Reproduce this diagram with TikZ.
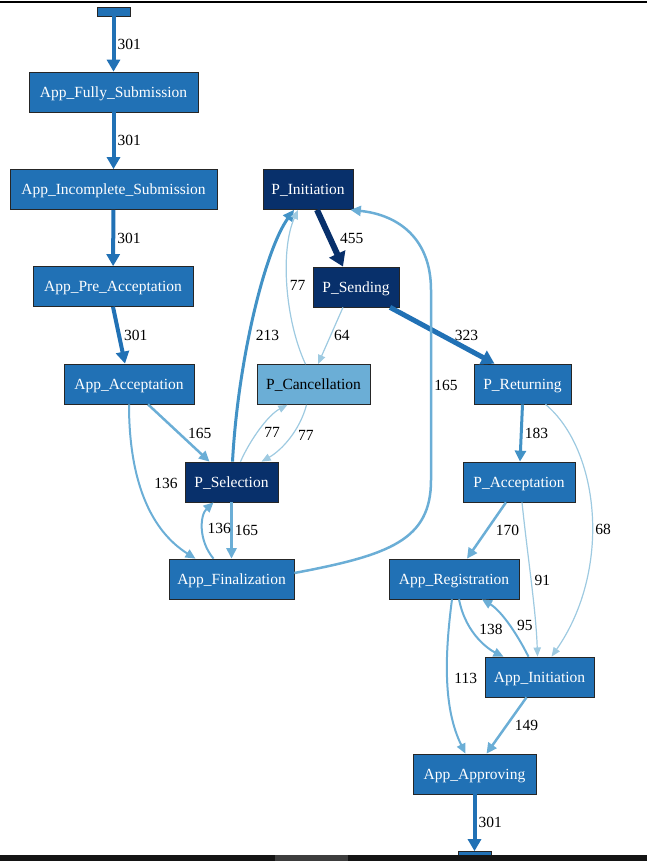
\documentclass[tikz,border=0pt]{standalone}
\usepackage{fontspec}
\setmainfont{Liberation Serif}
\usetikzlibrary{arrows.meta}
\definecolor{navy}{HTML}{08306B}
\definecolor{midblue}{HTML}{2171B5}
\definecolor{blue4}{HTML}{4292C6}
\definecolor{blue3}{HTML}{6BAED6}
\definecolor{blue2}{HTML}{9ECAE1}
\begin{document}
\begin{tikzpicture}[x=1pt,y=1pt,
    act/.style={draw=black!85, line width=0.7pt, fill=midblue, text=white, minimum height=40pt, inner sep=0pt, text height=10.3pt, text depth=0pt, font=\fontsize{15.5}{18}\selectfont},
    actdark/.style={act, fill=navy},
    actlight/.style={act, fill=blue3, text=black},
    lbl/.style={font=\fontsize{15.5}{18}\selectfont, text=black, inner sep=1pt, anchor=west},
    flow/.style={-{Triangle[length=8pt 1, width=5pt 2]}}]
    \useasboundingbox (0,0) rectangle (647,-861);
    \node[act, minimum width=33pt, minimum height=9pt, text height=0pt] (st) at (113.5,-11.5) {};
    \node[act, minimum width=169pt] (afs) at (113.5,-92) {App\_Fully\_Submission};
    \node[act, minimum width=207pt] (ais) at (113.5,-189.5) {App\_Incomplete\_Submission};
    \node[act, minimum width=160pt] (apa) at (113,-286.5) {App\_Pre\_Acceptation};
    \node[act, minimum width=130pt] (aa) at (129,-384) {App\_Acceptation};
    \node[actdark, minimum width=90pt] (pinit) at (308,-189.5) {P\_Initiation};
    \node[actdark, minimum width=86pt] (psend) at (356,-287) {P\_Sending};
    \node[actlight, minimum width=113pt] (pcanc) at (313.5,-384.5) {P\_Cancellation};
    \node[actdark, minimum width=93pt] (psel) at (231.5,-482) {P\_Selection};
    \node[act, minimum width=125pt] (afin) at (231.5,-579) {App\_Finalization};
    \node[act, minimum width=97pt] (pret) at (522.5,-384) {P\_Returning};
    \node[act, minimum width=112pt] (pacc) at (519,-482) {P\_Acceptation};
    \node[act, minimum width=130pt] (areg) at (454,-579) {App\_Registration};
    \node[act, minimum width=109pt] (ainit) at (539.5,-677) {App\_Initiation};
    \node[act, minimum width=123pt] (aapp) at (474.5,-774) {App\_Approving};
    \node[act, minimum width=33pt, minimum height=9pt, text height=0pt] (fin) at (474.5,-856) {};
    % application chain
    \draw[flow, midblue, line width=4pt] (st) -- (afs) node[lbl, midway, xshift=1pt] {301};
    \draw[flow, midblue, line width=4pt] (afs) -- (ais) node[lbl, midway, xshift=1pt] {301};
    \draw[flow, midblue, line width=4pt] (ais) -- (apa) node[lbl, midway, xshift=1pt] {301};
    \draw[flow, midblue, line width=4pt] (apa.south) -- ([xshift=-4pt]aa.north) node[lbl, midway, xshift=2pt] {301};
    \draw[flow, blue3, line width=2.5pt] ([xshift=19pt]aa.south) -- ([xshift=-22pt]psel.north) node[lbl, midway, xshift=7pt] {165};
    \draw[flow, blue3, line width=2pt] (aa.south) .. controls (129,-480) and (150,-530) .. ([xshift=-36pt]afin.north) node[lbl, pos=0.4, xshift=13pt] {136};
    % offer part
    \draw[flow, blue4, line width=3pt] ([xshift=1pt]psel.north) .. controls (238,-360) and (265,-250) .. ([xshift=-14pt]pinit.south) node[lbl, pos=0.42, xshift=4pt] {213};
    \draw[flow, blue2, line width=1.2pt] ([xshift=-8pt]pcanc.north) .. controls (285,-320) and (280,-250) .. ([xshift=-10pt]pinit.south) node[lbl, pos=0.5, xshift=1pt] {77};
    \draw[flow, navy, line width=6pt] ([xshift=9pt]pinit.south) -- ([xshift=-13pt]psend.north) node[lbl, midway, xshift=6pt] {455};
    \draw[flow, blue2, line width=1.2pt] ([xshift=-13pt]psend.south) -- ([xshift=4.5pt]pcanc.north) node[lbl, midway, xshift=2pt] {64};
    \draw[flow, midblue, line width=5pt] ([xshift=34pt]psend.south) -- ([xshift=-28pt]pret.north) node[lbl, midway, xshift=9pt] {323};
    \draw[flow, blue2, line width=1.2pt] ([xshift=-7pt]pcanc.south) .. controls (300,-430) and (282,-450) .. ([xshift=30pt]psel.north) node[lbl, pos=0.45, xshift=5pt] {77};
    \draw[flow, blue2, line width=1.2pt] ([xshift=9pt]psel.north) .. controls (250,-440) and (268,-415) .. ([xshift=-26pt]pcanc.south) node[lbl, pos=0.45, xshift=5pt] {77};
    \draw[flow, blue3, line width=2.5pt] (psel) -- (afin) node[lbl, midway, xshift=1pt] {165};
    \draw[flow, blue3, line width=2pt] ([xshift=-18pt]afin.north) .. controls (198,-540) and (200,-515) .. ([xshift=-18pt]psel.south) node[lbl, pos=0.5, xshift=3pt] {136};
    \draw[flow, blue3, line width=2.5pt] ([yshift=6pt]afin.east) .. controls (390,-555) and (431,-540) .. (431,-480)
      -- node[lbl, midway, xshift=1pt] {165} (431,-290) .. controls (431,-240) and (400,-215) .. ([xshift=-3pt]pinit.south east);
    % returning part
    \draw[flow, blue4, line width=3pt] (pret.south) -- ([xshift=1pt]pacc.north) node[lbl, midway, xshift=1pt] {183};
    \draw[flow, blue2, line width=1.2pt] ([xshift=23pt]pret.south) .. controls (600,-450) and (612,-570) .. ([xshift=12pt]ainit.north) node[lbl, pos=0.55, xshift=2pt] {68};
    \draw[flow, blue3, line width=2.5pt] ([xshift=-13pt]pacc.south) -- ([xshift=13pt]areg.north) node[lbl, midway, xshift=7pt] {170};
    \draw[flow, blue2, line width=1.2pt] ([xshift=3pt]pacc.south) .. controls (528,-560) and (536,-610) .. ([xshift=-2pt]ainit.north) node[lbl, pos=0.48, xshift=2pt] {91};
    \draw[flow, blue3, line width=2pt] ([xshift=5pt]areg.south) .. controls (466,-635) and (490,-650) .. ([xshift=-36pt]ainit.north) node[lbl, pos=0.35, xshift=6pt] {138};
    \draw[flow, blue3, line width=2pt] ([xshift=-11pt]ainit.north) .. controls (515,-630) and (500,-610) .. ([xshift=28pt]areg.south) node[lbl, pos=0.45, xshift=6pt] {95};
    \draw[flow, blue3, line width=2pt] ([xshift=-2pt]areg.south) .. controls (444,-660) and (444,-710) .. ([xshift=-9pt]aapp.north) node[lbl, pos=0.47, xshift=5pt] {113};
    \draw[flow, blue3, line width=2.5pt] ([xshift=-13pt]ainit.south) -- ([xshift=12pt]aapp.north) node[lbl, midway, xshift=6pt] {149};
    \draw[flow, midblue, line width=4pt] (aapp) -- (fin) node[lbl, midway, xshift=1pt] {301};
    % window edges
    \draw[line width=1.5pt] (0,-2) -- (647,-2);
    \fill[black!92] (0,-855) rectangle (647,-861);
    \fill[black!76] (275,-855) rectangle (348,-861);
\end{tikzpicture}
\end{document}
